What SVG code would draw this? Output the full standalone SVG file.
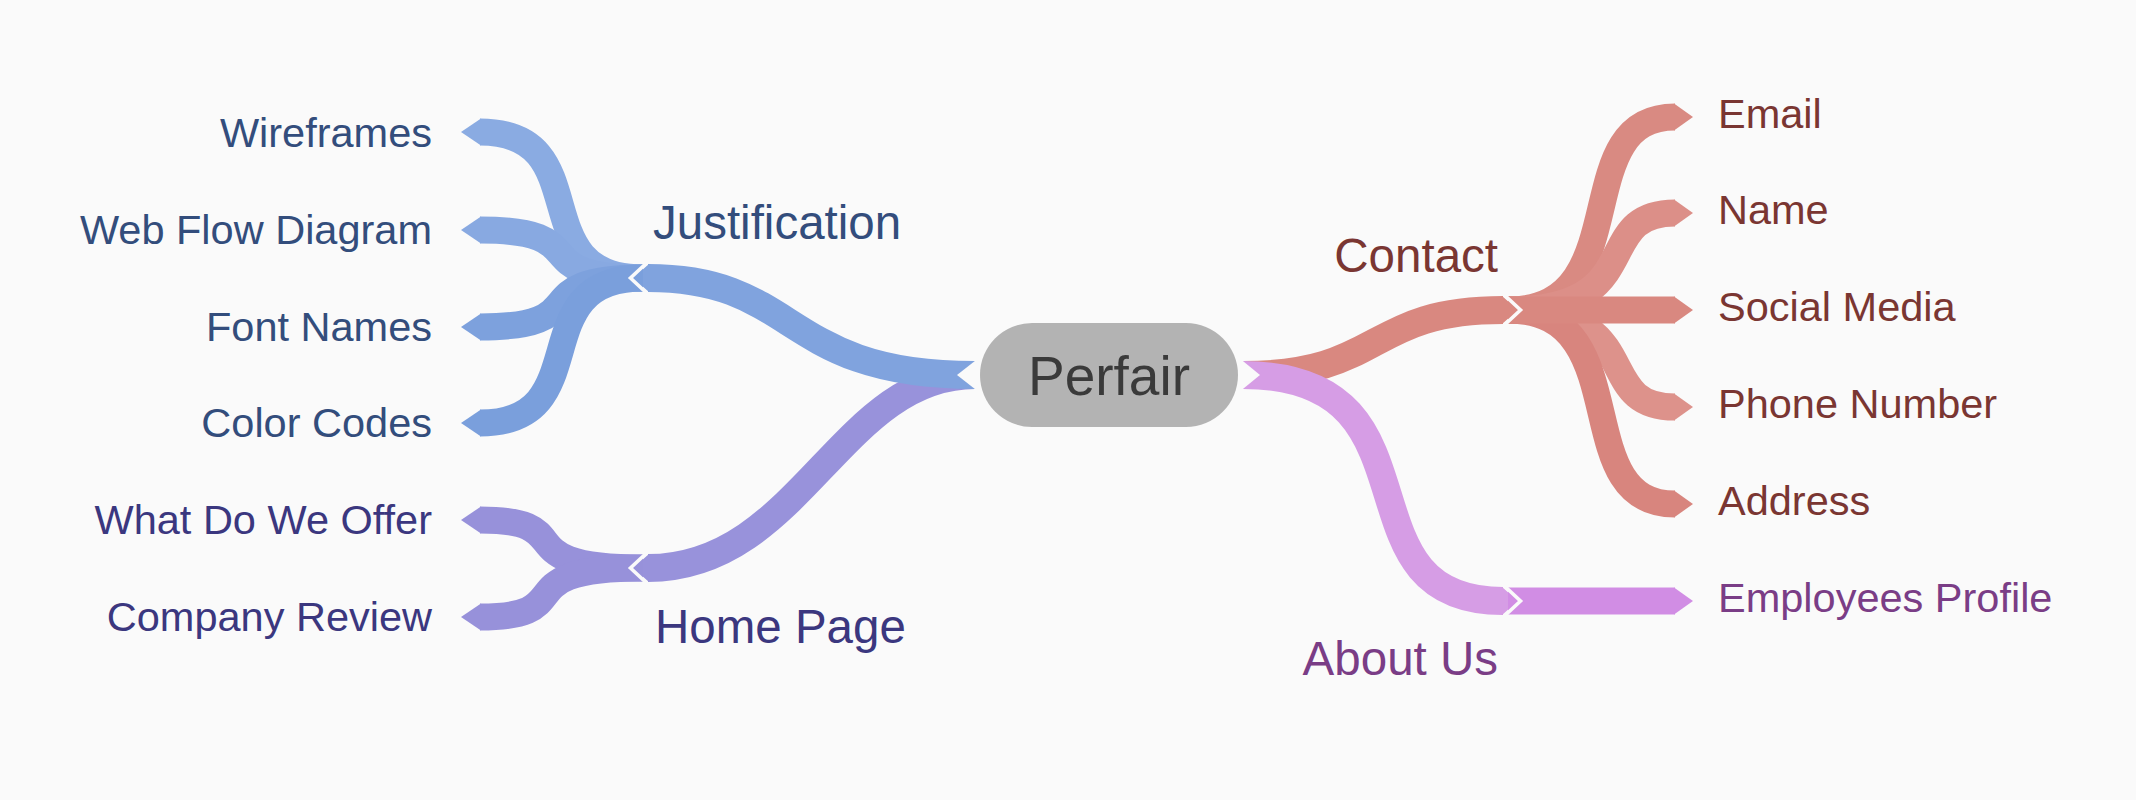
<svg xmlns="http://www.w3.org/2000/svg" width="2136" height="800" viewBox="0 0 2136 800">
<style>
.band{fill:none;stroke-linecap:butt;stroke-width:27}
.main{stroke-width:28}
.t{font-family:"Liberation Sans",Arial,Helvetica,sans-serif}
.c{font-size:41.5px}
.m{font-size:47.5px}
.gap{fill:none;stroke:#000;stroke-width:3.6;stroke-linejoin:miter}
.jb{fill:#334d7c}.hb{fill:#3b377f}.cb{fill:#7a3632}.ab{fill:#7a3d86}
</style>
<defs>
<mask id="notches" maskUnits="userSpaceOnUse" x="0" y="0" width="2136" height="800">
<rect x="0" y="0" width="2136" height="800" fill="#fff"/>
<polygon points="957,375 980,357.1 980,392.9" fill="#000"/>
<polygon points="1260,375 1238,356.9 1238,393.1" fill="#000"/>
<polyline class="gap" points="647.6,262 630.5,278 647.6,294"/>
<polyline class="gap" points="647.6,552 630.5,568 647.6,584"/>
<polyline class="gap" points="1503.4,294 1520.5,310 1503.4,326"/>
<polyline class="gap" points="1503.4,585 1520.5,601 1503.4,617"/>
</mask>
</defs>
<rect x="0" y="0" width="2136" height="800" fill="#fafafa"/>
<g id="connectors" mask="url(#notches)">
<path class="band main" stroke="#9892db" d="M975,375 C840,375 800,568 648,568"/>
<polygon fill="#9892db" points="649,554 633,568 649,582"/>
<path class="band main" stroke="#80a3de" d="M975,375 C780,375 800,278 648,278"/>
<polygon fill="#80a3de" points="649,264 633,278 649,292"/>
<path class="band" stroke="#9791da" d="M643,568 C500,568 585,520 480,520"/>
<polygon fill="#9791da" points="481,506.5 461,520 481,533.5"/>
<path class="band" stroke="#9791da" d="M643,568 C500,568 585,617 480,617"/>
<polygon fill="#9791da" points="481,603.5 461,617 481,630.5"/>
<path class="band" stroke="#8aabe2" d="M643,278 C520,278 600,132 480,132"/>
<polygon fill="#8aabe2" points="481,118.5 461,132 481,145.5"/>
<path class="band" stroke="#88a9e1" d="M643,278 C520,278 600,230 480,230"/>
<polygon fill="#88a9e1" points="481,216.5 461,230 481,243.5"/>
<path class="band" stroke="#7da1dd" d="M643,278 C520,278 600,327 480,327"/>
<polygon fill="#7da1dd" points="481,313.5 461,327 481,340.5"/>
<path class="band" stroke="#7a9fdc" d="M643,278 C520,278 600,423 480,423"/>
<polygon fill="#7a9fdc" points="481,409.5 461,423 481,436.5"/>
<path class="band main" stroke="#d98880" d="M1243,375 C1385,375 1365,310 1503,310"/>
<polygon fill="#d98880" points="1502,296 1518,310 1502,324"/>
<path class="band main" stroke="#d69de5" d="M1243,375 C1450,375 1330,601 1503,601"/>
<polygon fill="#d69de5" points="1502,587 1518,601 1502,615"/>
<path class="band" stroke="#d98a82" d="M1508,310 C1640,310 1565,117 1675,117"/>
<polygon fill="#d98a82" points="1674,103.5 1693,117 1674,130.5"/>
<path class="band" stroke="#dc8f88" d="M1508,310 C1650,310 1590,213 1675,213"/>
<polygon fill="#dc8f88" points="1674,199.5 1693,213 1674,226.5"/>
<path class="band" stroke="#dd928b" d="M1508,310 C1650,310 1590,407 1675,407"/>
<polygon fill="#dd928b" points="1674,393.5 1693,407 1674,420.5"/>
<path class="band" stroke="#d8857e" d="M1508,310 C1640,310 1565,504 1675,504"/>
<polygon fill="#d8857e" points="1674,490.5 1693,504 1674,517.5"/>
<path class="band" stroke="#d98880" d="M1508,310 L1675,310"/>
<polygon fill="#d98880" points="1674,296.5 1693,310 1674,323.5"/>
<path class="band" stroke="#d18de4" d="M1508,601 L1675,601"/>
<polygon fill="#d18de4" points="1674,587.5 1693,601 1674,614.5"/>
</g>
<g id="perfair">
<rect x="980" y="323" width="258" height="104" rx="52" ry="52" fill="#b3b3b3"/>
<text class="t" x="1109" y="395" font-size="55" text-anchor="middle" fill="#3a3a3a">Perfair</text>
</g>
<g id="justification"><text class="t m jb" x="653" y="239">Justification</text></g>
<g id="home-page"><text class="t m hb" x="655" y="643">Home Page</text></g>
<g id="contact"><text class="t m cb" x="1498" y="272" text-anchor="end">Contact</text></g>
<g id="about-us"><text class="t m ab" x="1498" y="675" text-anchor="end">About Us</text></g>
<g id="wireframes"><text class="t c jb" x="432" y="147" text-anchor="end">Wireframes</text></g>
<g id="web-flow-diagram"><text class="t c jb" x="432" y="244" text-anchor="end">Web Flow Diagram</text></g>
<g id="font-names"><text class="t c jb" x="432" y="341" text-anchor="end">Font Names</text></g>
<g id="color-codes"><text class="t c jb" x="432" y="437" text-anchor="end">Color Codes</text></g>
<g id="what-do-we-offer"><text class="t c hb" x="432" y="534" text-anchor="end">What Do We Offer</text></g>
<g id="company-review"><text class="t c hb" x="432" y="631" text-anchor="end">Company Review</text></g>
<g id="email"><text class="t c cb" x="1718" y="128">Email</text></g>
<g id="name"><text class="t c cb" x="1718" y="224">Name</text></g>
<g id="social-media"><text class="t c cb" x="1718" y="321">Social Media</text></g>
<g id="phone-number"><text class="t c cb" x="1718" y="418">Phone Number</text></g>
<g id="address"><text class="t c cb" x="1718" y="515">Address</text></g>
<g id="employees-profile"><text class="t c ab" x="1718" y="612">Employees Profile</text></g>
</svg>
